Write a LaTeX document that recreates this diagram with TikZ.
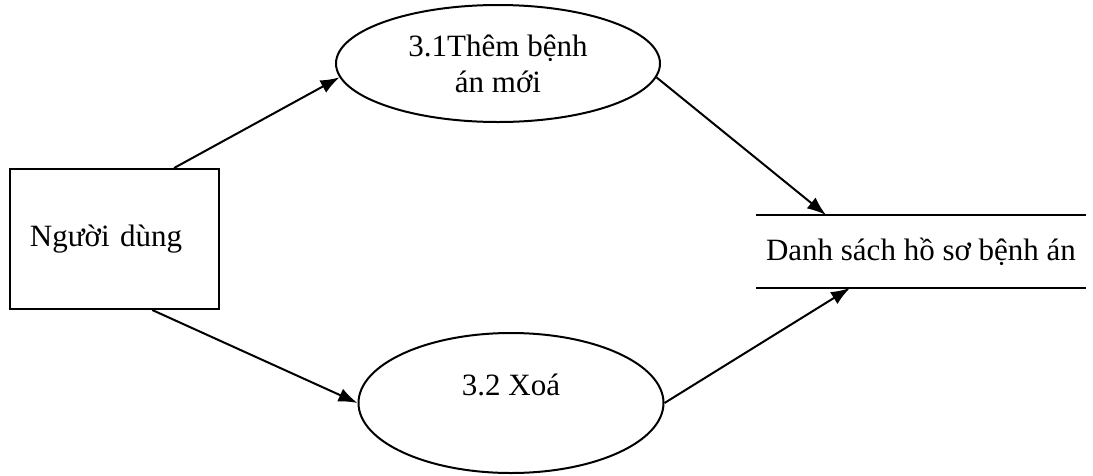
\documentclass[tikz,border=0pt]{standalone}
\usepackage{fontspec}
\setmainfont{Liberation Serif}
\usetikzlibrary{shapes.geometric,arrows.meta}
\tikzset{
  entity/.style = {draw, minimum width=209pt, minimum height=140pt,
    inner xsep=20pt, text width=169pt, align=left},
  process/.style = {draw, ellipse, minimum width=324pt, minimum height=117pt,
    align=center},
  store/.style = {minimum width=328pt, minimum height=71pt}
}
\tikzset{>={Latex[length=19pt,width=14pt]}}

\begin{document}
\begin{tikzpicture}[x=1pt,y=-1pt,line width=2pt,font=\fontsize{31}{36}\selectfont]
  \useasboundingbox (0,0) rectangle (1093,475);
  % external entity
  \node[entity] (user) at (114.5,239) {Người dùng};
  % processes
  \node[process] (add) at (498,63.5) {3.1Thêm bệnh\\án mới};
  \node[process,minimum width=305pt,minimum height=140pt] (del) at (511,403) {3.2 Xoá\\\mbox{}};
  % data store
  \node[store] (list) at (921,251.5) {Danh sách hồ sơ bệnh án};
  \draw (list.north west) -- (list.north east);
  \draw (list.south west) -- (list.south east);
  % flows
  \draw[->] (user.50) -- (add.185);
  \draw[->] (add.-5) -- ([xshift=70pt]list.north west);
  \draw[->] (user.-62) -- (del.west);
  \draw[->] (del.east) -- ([xshift=94pt]list.south west);
\end{tikzpicture}
\end{document}
